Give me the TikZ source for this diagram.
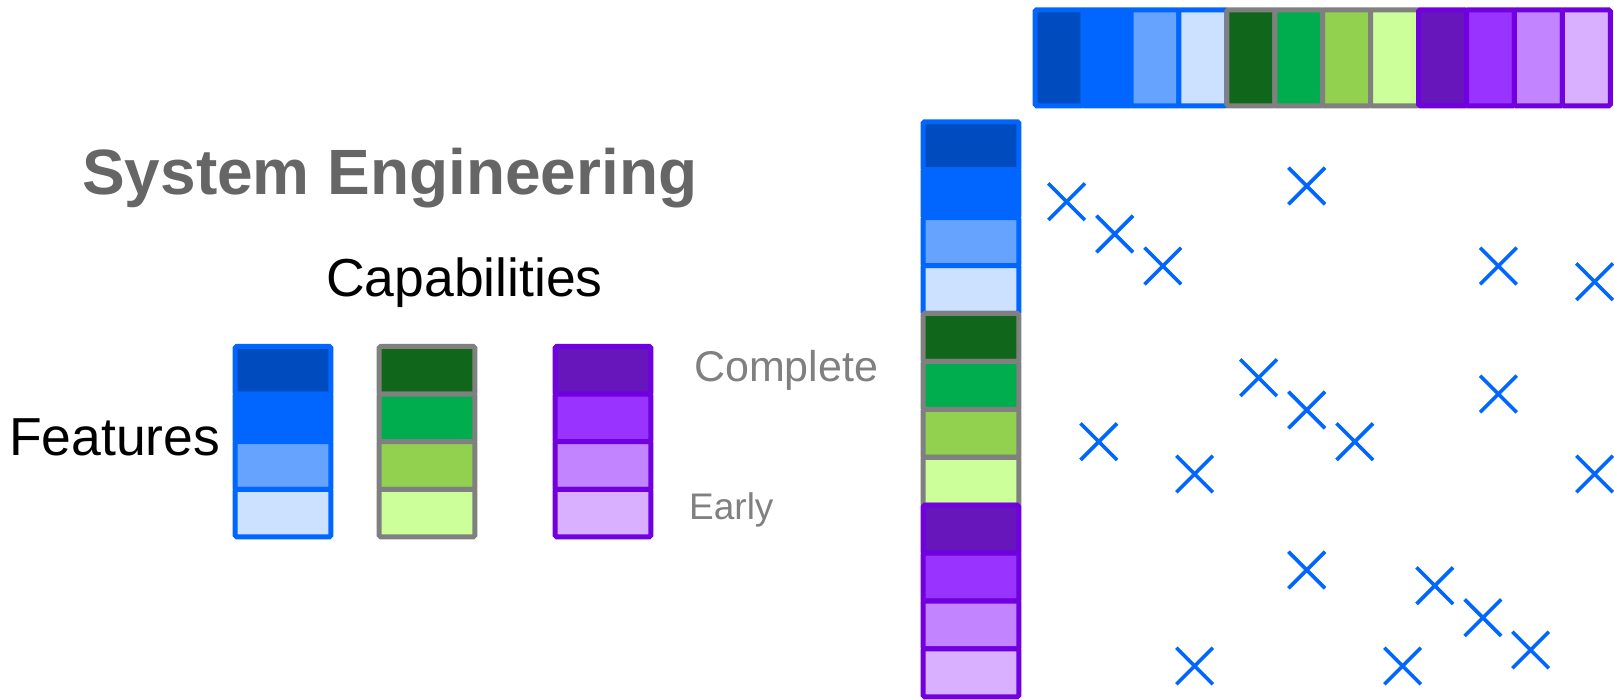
\documentclass[tikz,border=0pt]{standalone}
\usepackage{fontspec}
\setmainfont{Liberation Sans}
\usetikzlibrary{shapes.misc, positioning}
\usepackage{xcolor}

% borders of the three capability groups
\definecolor{blueLine}{HTML}{0066FF}
\definecolor{grayLine}{HTML}{808080}
\definecolor{purpleLine}{HTML}{7000E0}
% feature shades, complete -> early
\definecolor{blue1}{HTML}{004CBF}
\definecolor{blue2}{HTML}{0066FF}
\definecolor{blue3}{HTML}{66A3FF}
\definecolor{blue4}{HTML}{CCE0FF}
\definecolor{green1}{HTML}{10661A}
\definecolor{green2}{HTML}{00AD4E}
\definecolor{green3}{HTML}{92D050}
\definecolor{green4}{HTML}{CCFF99}
\definecolor{purple1}{HTML}{6716BB}
\definecolor{purple2}{HTML}{9933FF}
\definecolor{purple3}{HTML}{C285FF}
\definecolor{purple4}{HTML}{D8B0FF}
\definecolor{titleGray}{HTML}{666666}

\begin{document}
\begin{tikzpicture}[x=1pt, y=-1pt,
    cell/.style={draw, line width=5pt, rounded corners=1.5pt, inner sep=0pt,
        minimum width=95.6pt, minimum height=47.9pt},
    hcell/.style={cell, minimum width=47.9pt, minimum height=96pt},
    lcell/.style={cell, minimum height=47.6pt},
    hit/.style={cross out, draw=blueLine, line width=3.6pt, inner sep=0pt,
        minimum size=33pt},
    title/.style={font=\fontsize{64}{72}\selectfont\bfseries, text=titleGray,
        inner sep=0pt, anchor=base west},
    label/.style={font=\fontsize{53.5}{60}\selectfont, inner sep=0pt, anchor=base west},
    stage/.style={text=grayLine, inner sep=0pt, anchor=base west}]

    \useasboundingbox (0,0) rectangle (1614,700);

    % feature column (left) and feature row (top)
    \foreach \grp/\ln [count=\g from 0] in {blue/blueLine, green/grayLine, purple/purpleLine}
        \foreach \k in {1,...,4} {
            \pgfmathtruncatemacro\idx{4*\g+\k}
            \node[cell, draw=\ln, fill=\grp\k] (f-\idx) at (971, {121.8+47.92*(\idx-0.5)}) {};
            \node[hcell, draw=\ln, fill=\grp\k] (c-\idx) at ({1035.2+47.92*(\idx-0.5)}, 57.8) {};
        }

    % legend columns
    \foreach \grp/\ln/\cx in {blue/blueLine/283, green/grayLine/427, purple/purpleLine/603}
        \foreach \k in {1,...,4}
            \node[lcell, draw=\ln, fill=\grp\k] (\grp-\k) at (\cx, {370.3+47.6*(\k-1)}) {};

    \node[title] (sys) at (82,195) {System Engineering};
    \node[label] (cap) at (326,297) {Capabilities};
    \node[label] (feat) at (9,455) {Features};
    \node[stage, font=\fontsize{43}{50}\selectfont] (complete) at (694,381.7) {Complete};
    \node[stage, font=\fontsize{37}{44}\selectfont] (early) at (689,519.3) {Early};

    % dependencies
    \foreach \px/\py [count=\n] in {1066.6/201.7, 1114.7/234, 1162.8/266, 1306.7/186,
            1498.4/266, 1594.6/281.7, 1258.6/377.7, 1306.7/410, 1354.8/441.7,
            1498.4/394, 1098.8/441.7, 1194.6/474, 1594.6/474, 1306.7/570,
            1434.8/585.7, 1482.9/617.7, 1530.6/650, 1194.6/666, 1402.6/666}
        \node[hit] (x-\n) at (\px,\py) {};

\end{tikzpicture}
\end{document}
